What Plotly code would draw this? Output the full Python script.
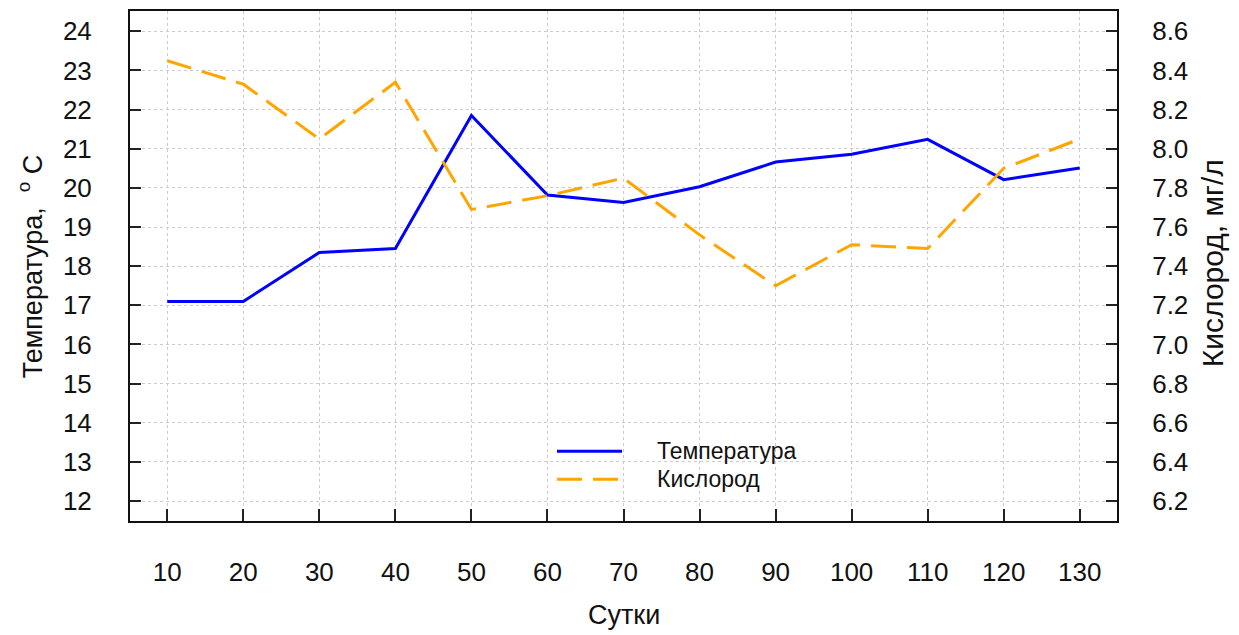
import plotly.graph_objects as go

# Days of observation
days = [10, 20, 30, 40, 50, 60, 70, 80, 90, 100, 110, 120, 130]
# Water temperature, °C
temperature = [17.1, 17.1, 18.35, 18.45, 21.85, 19.82, 19.63, 20.03, 20.66, 20.86, 21.24, 20.21, 20.51]
# Dissolved oxygen, mg/l
oxygen = [8.45, 8.33, 8.05, 8.34, 7.69, 7.76, 7.85, 7.56, 7.30, 7.51, 7.49, 7.90, 8.05]

temp_ticks = list(range(12, 25))
oxy_ticks = [6.2, 6.4, 6.6, 6.8, 7.0, 7.2, 7.4, 7.6, 7.8, 8.0, 8.2, 8.4, 8.6]
oxy_tick_text = [f"{v:.1f}" for v in oxy_ticks]

legend_names = ["Температура", "Кислород"]

FONT = "Liberation Sans, Arial, sans-serif"
BLUE = "#0000ff"
ORANGE = "#ffa500"
GRID = "#cccccc"
OXY_DASH = "25px,11px"

fig = go.Figure()
fig.add_trace(go.Scatter(x=days, y=temperature, mode="lines", name=legend_names[0],
                         line=dict(color=BLUE, width=3), yaxis="y", showlegend=False))
fig.add_trace(go.Scatter(x=days, y=oxygen, mode="lines", name=legend_names[1],
                         line=dict(color=ORANGE, width=3, dash=OXY_DASH), yaxis="y2",
                         showlegend=False))

tick_font = dict(family=FONT, size=26, color="#111111")
title_font = dict(family=FONT, size=27, color="#111111")

fig.update_layout(
    width=1239, height=635,
    margin=dict(l=130, r=122, t=9, b=114),
    paper_bgcolor="white", plot_bgcolor="white",
    xaxis=dict(
        range=[5.1, 134.9], tickvals=days, ticks="inside", ticklen=12, tickwidth=2,
        tickcolor="#222222", showline=True, mirror=True, linecolor="#111111", linewidth=2,
        showgrid=True, gridcolor=GRID, griddash="dot", gridwidth=1,
        tickfont=tick_font, ticklabelstandoff=27, zeroline=False,
    ),
    yaxis=dict(
        range=[11.49, 24.52], tickvals=temp_ticks, ticks="inside", ticklen=11, tickwidth=2,
        tickcolor="#222222", showline=True, mirror=True, linecolor="#111111", linewidth=2,
        showgrid=True, gridcolor=GRID, griddash="dot", gridwidth=1,
        tickfont=tick_font, ticklabelstandoff=31, zeroline=False,
    ),
    yaxis2=dict(
        range=[6.098, 8.704], tickvals=oxy_ticks, ticktext=oxy_tick_text, overlaying="y",
        side="right", ticks="inside", ticklen=11, tickwidth=2, tickcolor="#222222",
        showline=True, linecolor="#111111", linewidth=2, showgrid=False,
        tickfont=tick_font, ticklabelstandoff=28, zeroline=False,
    ),
    showlegend=False,
)

# Axis titles
fig.add_annotation(text="Сутки", xref="paper", yref="paper", x=0.5, y=-0.184,
                   xanchor="center", yanchor="middle", showarrow=False, font=title_font)
fig.add_annotation(text="Температура,  <sup>o</sup> C", xref="paper", yref="paper",
                   x=-0.101, y=0.5, xanchor="center", yanchor="middle", textangle=-90,
                   showarrow=False, font=title_font)
fig.add_annotation(text="Кислород, мг/л", xref="paper", yref="paper", x=1.097, y=0.505,
                   xanchor="center", yanchor="middle", textangle=-90, showarrow=False,
                   font=dict(family=FONT, size=30, color="#111111"))

# Legend drawn inside the plot area
legend_font = dict(family=FONT, size=23, color="#111111")
legend_rows = [(0.1367, BLUE, "solid"), (0.0820, ORANGE, OXY_DASH)]
for name, (ly, color, dash) in zip(legend_names, legend_rows):
    fig.add_shape(type="line", xref="paper", yref="paper", x0=0.4326, x1=0.4985, y0=ly, y1=ly,
                  line=dict(color=color, width=3, dash=dash))
    fig.add_annotation(text=name, xref="paper", yref="paper", x=0.5319, y=ly,
                       xanchor="left", yanchor="middle", showarrow=False, font=legend_font)

fig.write_html("out.html")
